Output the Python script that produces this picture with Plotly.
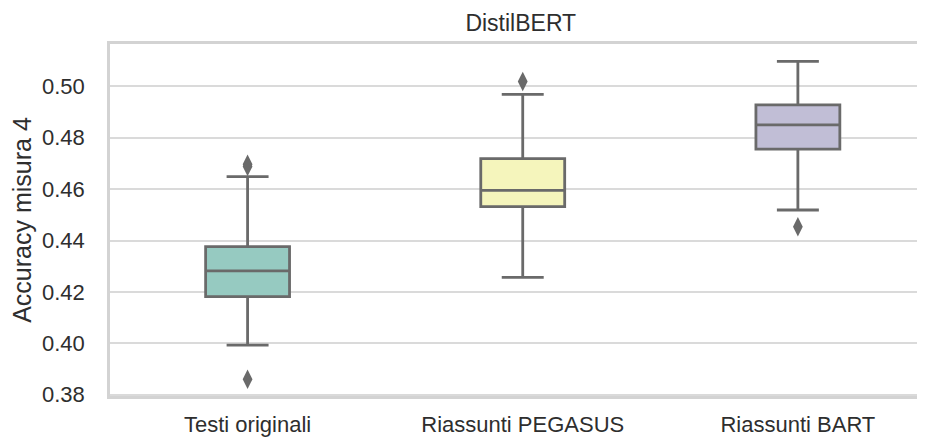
import plotly.graph_objects as go

categories = ["Testi originali", "Riassunti PEGASUS", "Riassunti BART"]
q1 = [0.4182, 0.4532, 0.4756]
medians = [0.4282, 0.4595, 0.4850]
q3 = [0.4376, 0.4719, 0.4928]
lower_whisker = [0.3993, 0.4257, 0.4519]
upper_whisker = [0.4649, 0.4969, 0.5097]
outlier_cat = ["Testi originali", "Testi originali", "Testi originali",
               "Riassunti PEGASUS", "Riassunti BART"]
outlier_val = [0.4697, 0.4688, 0.3860, 0.5019, 0.4454]
fill_colors = ["#96cac1", "#f5f5bc", "#c1bed6"]

line_gray = "#6a6a6a"
text_col = "#2e2e2e"
font_fam = "Liberation Sans, Arial, sans-serif"

fig = go.Figure()
for i, c in enumerate(categories):
    fig.add_trace(go.Box(
        x=[c], q1=[q1[i]], median=[medians[i]], q3=[q3[i]],
        lowerfence=[lower_whisker[i]], upperfence=[upper_whisker[i]],
        fillcolor=fill_colors[i], line=dict(color=line_gray, width=2.8),
        width=0.305, whiskerwidth=0.5, boxpoints=False, showlegend=False,
        hoverinfo="y",
    ))

fig.add_trace(go.Scatter(
    x=outlier_cat, y=outlier_val, mode="markers",
    marker=dict(symbol="diamond-tall", size=14, color=line_gray,
                line=dict(width=0)),
    showlegend=False,
))

fig.update_layout(
    width=917, height=433,
    margin=dict(l=102, r=0, t=36, b=45),
    paper_bgcolor="white", plot_bgcolor="white",
    boxmode="overlay",
    font=dict(family=font_fam, color=text_col, size=22),
    title=dict(text="DistilBERT", x=0.504, xanchor="center", xref="paper",
               y=1 - 15 / 433, yanchor="middle", yref="container",
               font=dict(size=23, color=text_col)),
)
fig.update_xaxes(
    type="category", categoryorder="array", categoryarray=categories,
    range=[-0.5, 2.462], showgrid=False, zeroline=False,
    showline=True, linecolor="#d3d3d3", linewidth=2.5, mirror=True,
    ticks="", ticklabelstandoff=7, tickfont=dict(size=22, color=text_col),
)
fig.update_yaxes(
    range=[0.3795, 0.5165], tickvals=[0.38, 0.40, 0.42, 0.44, 0.46, 0.48, 0.50],
    ticktext=["0.38", "0.40", "0.42", "0.44", "0.46", "0.48", "0.50"],
    showgrid=True, gridcolor="#dadada", gridwidth=1.5, zeroline=False,
    showline=True, linecolor="#d3d3d3", linewidth=2.5, mirror=False,
    ticks="", ticklabelstandoff=18, tickfont=dict(size=22, color=text_col),
    title=dict(text="Accuracy misura 4", font=dict(size=25, color=text_col),
               standoff=8),
)

fig.write_html("out.html")
